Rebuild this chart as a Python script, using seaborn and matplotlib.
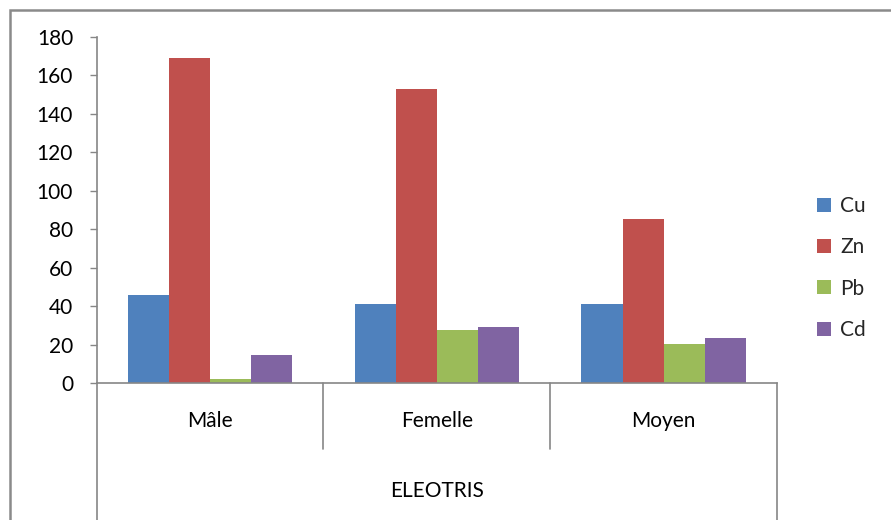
import matplotlib
matplotlib.use("Agg")
import matplotlib.pyplot as plt
from matplotlib.lines import Line2D
from matplotlib.patches import Rectangle
import pandas as pd
import seaborn as sns

# Metal concentrations in Eleotris by sex group
groups = ["Mâle", "Femelle", "Moyen"]
metals = ["Cu", "Zn", "Pb", "Cd"]
cu = [46.0, 41.0, 41.0]
zn = [169.0, 152.7, 85.6]
pb = [2.3, 27.7, 20.5]
cd = [14.7, 29.1, 23.6]
y_ticks = [0, 20, 40, 60, 80, 100, 120, 140, 160, 180]
group_title = "ELEOTRIS"

colors = ["#4F81BD", "#C0504D", "#9BBB59", "#8064A2"]
axis_gray = "#868686"
fs = 15

df = pd.DataFrame({
    "groupe": groups * 4,
    "metal": sum([[m] * 3 for m in metals], []),
    "valeur": cu + zn + pb + cd,
})

sns.set_theme(style="white")
plt.rcParams["font.family"] = ["Lato", "DejaVu Sans"]

fig = plt.figure(figsize=(8.91, 5.2), dpi=100)
ax = fig.add_axes([96.7 / 891, 1 - 383.3 / 520, 680.3 / 891, 346.5 / 520])

sns.barplot(data=df, x="groupe", y="valeur", hue="metal", order=groups,
            hue_order=metals, palette=colors, width=0.725, saturation=1,
            edgecolor="none", ax=ax)

ax.set_xlim(-0.5, 2.5)
ax.set_ylim(0, 180)
ax.set_yticks(y_ticks)
ax.set_xlabel("")
ax.set_ylabel("")
ax.set_xticks([])
ax.tick_params(axis="y", which="both", left=True, length=5, width=1,
               color=axis_gray, labelsize=fs, pad=12, labelcolor="black")

for side in ["top", "right"]:
    ax.spines[side].set_visible(False)
for side in ["left", "bottom"]:
    ax.spines[side].set_color(axis_gray)
    ax.spines[side].set_linewidth(1.2)

# Two-level category axis: group labels, separators and the outer title
to_fig = ax.transAxes
for xa, y_end in [(0.0, -0.40), (1 / 3, -0.19), (2 / 3, -0.19), (1.0, -0.40)]:
    ax.add_line(Line2D([xa, xa], [0, y_end], transform=to_fig, color=axis_gray,
                       lw=1.2, clip_on=False))
for i, g in enumerate(groups):
    ax.text(i, -0.108, g, transform=ax.get_xaxis_transform(), ha="center",
            va="center", fontsize=fs, color="black")
ax.text(0.5, -0.31, group_title, transform=to_fig, ha="center", va="center",
        fontsize=fs, color="black")

# Legend on the right
handles = [Rectangle((0, 0), 1, 1, facecolor=c, edgecolor="none") for c in colors]
ax.legend(handles, metals, loc="center left",
          bbox_to_anchor=(817 / 891, 1 - 268 / 520),
          bbox_transform=fig.transFigure, frameon=False, fontsize=fs,
          handlelength=0.65, handleheight=0.65, handletextpad=0.45,
          labelspacing=1.02, borderaxespad=0, borderpad=0)

# Chart area border
fig.add_artist(Rectangle((10 / 891, -0.1), 1.2, 1 - 10 / 520 + 0.1,
                         transform=fig.transFigure, fill=False,
                         edgecolor="#8a8a8a", lw=1.8))

fig.savefig("out.png", dpi=100)
